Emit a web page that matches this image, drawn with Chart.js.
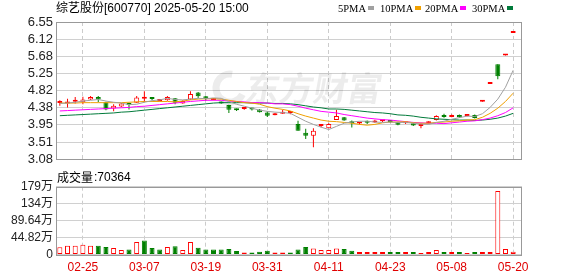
<!DOCTYPE html>
<html><head><meta charset="utf-8">
<script src="https://cdn.jsdelivr.net/npm/chart.js@4.4.1/dist/chart.umd.min.js"></script>
<style>
html,body{margin:0;padding:0;background:#fff;width:578px;height:276px;overflow:hidden}
#p{position:absolute;left:0;top:0}
#v{position:absolute;left:0;top:170px}
</style></head><body>
<canvas id="p" width="578" height="170"></canvas>
<canvas id="v" width="578" height="106"></canvas>
<script>
const stockTitle = "综艺股份[600770] 2025-05-20 15:00";
const dates = ["02-20","02-21","02-24","02-25","02-26","02-27","02-28","03-03","03-04","03-05",
"03-06","03-07","03-10","03-11","03-12","03-13","03-14","03-17","03-18","03-19",
"03-20","03-21","03-24","03-25","03-26","03-27","03-28","03-31","04-01","04-02",
"04-03","04-07","04-08","04-09","04-10","04-11","04-14","04-15","04-16","04-17",
"04-18","04-21","04-22","04-23","04-24","04-25","04-28","04-29","04-30","05-06",
"05-07","05-08","05-09","05-12","05-13","05-14","05-15","05-16","05-19","05-20"];
const opens = [4.50,4.49,4.53,4.52,4.59,4.65,4.52,4.36,4.41,4.46,
4.51,4.61,4.61,4.55,4.57,4.62,4.49,4.59,4.77,4.67,
4.58,4.53,4.45,4.33,4.35,4.35,4.34,4.26,4.19,4.23,
4.25,3.97,3.75,3.67,3.92,3.86,4.07,4.14,4.01,3.98,
4.01,4.01,4.04,4.03,4.02,3.99,3.99,3.92,3.99,4.07,
4.20,4.15,4.20,4.17,4.20,4.53,4.98,5.48,5.70,6.27];
const highs = [4.57,4.61,4.65,4.66,4.68,4.68,4.53,4.47,4.50,4.51,
4.68,4.80,4.63,4.60,4.68,4.63,4.57,4.80,4.78,4.68,
4.62,4.54,4.46,4.36,4.37,4.38,4.35,4.29,4.25,4.33,
4.30,4.05,3.85,3.86,3.95,3.99,4.33,4.15,4.06,4.01,
4.06,4.08,4.07,4.05,4.03,4.02,4.00,3.99,4.04,4.19,
4.23,4.21,4.21,4.19,4.21,4.53,4.98,5.48,5.70,6.27];
const lows = [4.43,4.39,4.49,4.47,4.58,4.52,4.32,4.29,4.40,4.34,
4.50,4.53,4.57,4.54,4.56,4.47,4.48,4.58,4.62,4.56,
4.57,4.48,4.25,4.30,4.33,4.31,4.26,4.15,4.19,4.23,
4.22,3.80,3.59,3.38,3.89,3.86,4.07,4.05,3.88,3.96,
3.97,4.00,4.02,4.00,3.94,3.97,3.92,3.86,3.98,4.06,
4.13,4.14,4.13,4.16,4.11,4.53,4.98,5.10,5.70,6.27];
const closes = [4.51,4.54,4.57,4.59,4.65,4.59,4.34,4.43,4.49,4.45,
4.64,4.61,4.60,4.58,4.65,4.51,4.55,4.73,4.67,4.60,
4.59,4.49,4.33,4.32,4.35,4.34,4.27,4.18,4.23,4.26,
4.25,3.80,3.67,3.80,3.93,3.97,4.17,4.06,3.99,3.99,
4.00,4.04,4.04,4.02,3.95,4.00,3.93,3.93,4.00,4.17,
4.15,4.20,4.14,4.18,4.12,4.53,4.98,5.18,5.70,6.27];
const volumes = [190000,230000,230000,260000,230000,230000,200000,170000,120000,130000,
330000,370000,170000,130000,200000,220000,120000,330000,180000,130000,
130000,130000,145000,90000,50000,50000,75000,100000,50000,50000,
50000,130000,200000,160000,120000,120000,160000,145000,100000,66000,
66000,66000,66000,66000,66000,66000,66000,40000,66000,120000,
66000,66000,66000,40000,66000,66000,66000,1680000,145000,70364];
const ma5 = [4.49,4.50,4.52,4.55,4.57,4.59,4.55,4.52,4.50,4.46,
4.47,4.52,4.56,4.58,4.62,4.59,4.58,4.60,4.62,4.61,
4.63,4.62,4.54,4.47,4.42,4.37,4.32,4.29,4.27,4.26,
4.24,4.14,4.04,3.96,3.89,3.83,3.91,3.99,4.02,4.04,
4.04,4.02,4.01,4.02,4.01,4.01,3.99,3.97,3.96,4.01,
4.04,4.09,4.13,4.17,4.16,4.23,4.39,4.60,4.90,5.33];
const ma10 = [4.50,4.50,4.50,4.51,4.51,4.51,4.51,4.51,4.51,4.52,
4.53,4.54,4.54,4.54,4.54,4.53,4.55,4.58,4.60,4.61,
4.61,4.60,4.57,4.54,4.51,4.50,4.47,4.41,4.37,4.34,
4.30,4.23,4.17,4.12,4.07,4.04,4.03,4.01,3.99,3.96,
3.94,3.96,4.00,4.02,4.02,4.03,4.00,3.99,3.99,4.01,
4.02,4.04,4.05,4.07,4.08,4.14,4.24,4.37,4.54,4.75];
const ma20 = [4.30,4.31,4.32,4.33,4.34,4.35,4.36,4.37,4.38,4.39,
4.41,4.42,4.44,4.46,4.48,4.50,4.52,4.54,4.555,4.57,
4.57,4.57,4.55,4.54,4.53,4.51,4.51,4.50,4.48,4.48,
4.46,4.42,4.37,4.33,4.29,4.27,4.25,4.21,4.18,4.15,
4.12,4.10,4.08,4.07,4.05,4.03,4.01,4.00,3.99,3.99,
3.98,4.00,4.02,4.04,4.05,4.08,4.12,4.18,4.26,4.38];
const ma30 = [4.18,4.19,4.20,4.21,4.22,4.23,4.24,4.25,4.27,4.28,
4.30,4.32,4.34,4.36,4.38,4.40,4.42,4.44,4.46,4.48,
4.50,4.51,4.51,4.51,4.51,4.50,4.50,4.50,4.49,4.49,
4.48,4.46,4.43,4.40,4.38,4.35,4.35,4.34,4.32,4.30,
4.28,4.26,4.25,4.23,4.20,4.19,4.17,4.14,4.12,4.10,
4.09,4.08,4.07,4.07,4.06,4.07,4.09,4.12,4.17,4.24];
const xTickLabels = ["02-25","03-07","03-19","03-31","04-11","04-23","05-08","05-20"];
const priceTickLabels = ["3.08","3.51","3.95","4.38","4.82","5.25","5.68","6.12","6.55"];
const priceMin = 3.08, priceMax = 6.55;
const volTickLabels = ["0","44.82万","89.64万","134万","179万"];
const volTickValues = [0,448200,896400,1344600,1792800];
const maNames = ["5PMA","10PMA","20PMA","30PMA"];

const RED = '#ff0000', GREEN = '#008000';
const MA_COLORS = ['#a0a0a0','#f0a000','#ff00ff','#007a3a'];
const N = closes.length;
const idx = closes.map((_, i) => i);
const candleUp = idx.map(i => closes[i] >= opens[i]);
const volUp = idx.map(i => i === 0 || closes[i] >= closes[i-1]);
const xTicks = xTickLabels.map(l => dates.indexOf(l));

const xScaleBase = {
  type: 'linear', min: -0.5, max: N - 0.5 + 0.65, offset: false,
  afterBuildTicks: s => { s.ticks = xTicks.map(v => ({value: v})); },
  grid: {color: '#cccccc', drawTicks: false, lineWidth: 1, offset: false},
  border: {display: false, dash: [4, 3]}
};

const boxPlugin = {
  id: 'box',
  afterDraw(chart) {
    const {ctx, chartArea: a} = chart;
    ctx.save();
    ctx.strokeStyle = '#999';
    ctx.lineWidth = 1;
    ctx.strokeRect(Math.round(a.left) + 0.5, Math.round(a.top) + 0.5,
      Math.round(a.right) - Math.round(a.left) - 1, Math.round(a.bottom) - Math.round(a.top));
    ctx.restore();
  }
};

const headerPlugin = {
  id: 'header',
  afterDraw(chart) {
    const ctx = chart.ctx;
    ctx.save();
    ctx.textBaseline = 'middle';
    ctx.fillStyle = '#000';
    ctx.font = '12px "Liberation Sans","Noto Sans CJK SC",sans-serif';
    ctx.fillText(stockTitle, 56, 8.5);
    ctx.font = '10.5px "Liberation Serif",serif';
    const xs = [338, 380, 425, 472];
    maNames.forEach((n, k) => {
      ctx.fillStyle = '#000';
      ctx.fillText(n, xs[k], 9);
      const w = ctx.measureText(n).width;
      ctx.fillStyle = MA_COLORS[k];
      ctx.fillRect(Math.round(xs[k] + w + 2), 6, 6, 4);
    });
    ctx.restore();
  }
};

const watermarkPlugin = {
  id: 'wm',
  beforeDatasetsDraw(chart) {
    const ctx = chart.ctx;
    ctx.save();
    ctx.fillStyle = 'rgba(0,0,0,0.075)';
    ctx.strokeStyle = 'rgba(0,0,0,0.075)';
    ctx.lineWidth = 7;
    ctx.beginPath();
    ctx.arc(230, 88, 14, Math.PI * 0.15, Math.PI * 1.55);
    ctx.stroke();
    ctx.setTransform(1, 0, -0.18, 1, 0, 0);
    ctx.font = 'bold 34px "Noto Sans CJK SC",sans-serif';
    ctx.textBaseline = 'middle';
    ctx.fillText('东方财富', 262, 88);
    ctx.restore();
  }
};

new Chart(document.getElementById('p'), {
  type: 'bar',
  data: {
    datasets: [
      ...[ma5, ma10, ma20, ma30].map((m, k) => ({
        type: 'line', label: maNames[k], order: 0,
        data: idx.map(i => ({x: i, y: m[i]})),
        borderColor: MA_COLORS[k], borderWidth: 1, pointRadius: 0, tension: 0
      })),
      {
        label: 'body', order: 1, grouped: false,
        data: idx.map(i => ({x: i, y: [opens[i], closes[i]]})),
        backgroundColor: c => candleUp[c.dataIndex] ? '#ffffff' : GREEN,
        borderColor: c => candleUp[c.dataIndex] ? RED : GREEN,
        borderWidth: 1, borderSkipped: false, barThickness: 5, minBarLength: 2, inflateAmount: 0
      },
      {
        label: 'wick', order: 2, grouped: false,
        data: idx.map(i => ({x: i, y: [lows[i], highs[i]]})),
        backgroundColor: c => candleUp[c.dataIndex] ? RED : GREEN,
        borderWidth: 0, barThickness: 1, minBarLength: 1, inflateAmount: 0
      }
    ]
  },
  options: {
    responsive: false, devicePixelRatio: 1, animation: false,
    layout: {padding: {left: 0, right: 56, top: 22, bottom: 4.5}},
    plugins: {legend: {display: false}, tooltip: {enabled: false}},
    scales: {
      x: Object.assign({}, xScaleBase, {ticks: {display: false}, afterFit: s => { s.height = 0; }}),
      y: {
        min: priceMin, max: priceMax,
        afterBuildTicks: s => {
          const step = (priceMax - priceMin) / (priceTickLabels.length - 1);
          s.ticks = priceTickLabels.map((_, i) => ({value: priceMin + i * step}));
        },
        afterFit: s => { s.width = 56; },
        ticks: {callback: (v, i) => priceTickLabels[i], color: '#222', padding: 3, autoSkip: false,
          font: {family: '"Liberation Sans",sans-serif', size: 13}},
        grid: {color: '#d0d0d0', drawTicks: false},
        border: {display: false}
      }
    }
  },
  plugins: [watermarkPlugin, boxPlugin, headerPlugin]
});

const volHeaderPlugin = {
  id: 'vh',
  afterDraw(chart) {
    const ctx = chart.ctx;
    ctx.save();
    ctx.textBaseline = 'middle';
    ctx.fillStyle = '#000';
    ctx.font = '12px "Noto Sans CJK SC",sans-serif';
    ctx.fillText('成交量', 57, 7.5);
    const w = ctx.measureText('成交量').width;
    ctx.font = '12px "Liberation Sans",sans-serif';
    ctx.fillText(':' + volumes[N - 1], 57 + w + 1, 7.5);
    ctx.restore();
  }
};

new Chart(document.getElementById('v'), {
  type: 'bar',
  data: {
    datasets: [{
      label: 'vol', grouped: false,
      data: idx.map(i => ({x: i, y: volumes[i]})),
      backgroundColor: c => volUp[c.dataIndex] ? '#ffffff' : GREEN,
      borderColor: c => volUp[c.dataIndex] ? RED : GREEN,
      borderWidth: 1, borderSkipped: false, barThickness: 5, minBarLength: 1, inflateAmount: 0
    }]
  },
  options: {
    responsive: false, devicePixelRatio: 1, animation: false,
    layout: {padding: {left: 0, right: 56, top: 16.7, bottom: 0}},
    plugins: {legend: {display: false}, tooltip: {enabled: false}},
    scales: {
      x: Object.assign({}, xScaleBase, {
        ticks: {callback: v => dates[v], color: '#e00000', padding: 6, maxRotation: 0, autoSkip: false,
          font: {family: '"Liberation Sans",sans-serif', size: 12}},
        afterFit: s => { s.height = 21.5; }
      }),
      y: {
        min: 0, max: volTickValues[volTickValues.length - 1],
        afterBuildTicks: s => { s.ticks = volTickValues.map(v => ({value: v})); },
        afterFit: s => { s.width = 56; },
        ticks: {callback: (v, i) => volTickLabels[i], color: '#222', padding: 3, autoSkip: false,
          font: {family: '"Liberation Sans","Noto Sans CJK SC",sans-serif', size: 12}},
        grid: {color: '#d0d0d0', drawTicks: false},
        border: {display: false}
      }
    }
  },
  plugins: [boxPlugin, volHeaderPlugin]
});
</script>
</body></html>
